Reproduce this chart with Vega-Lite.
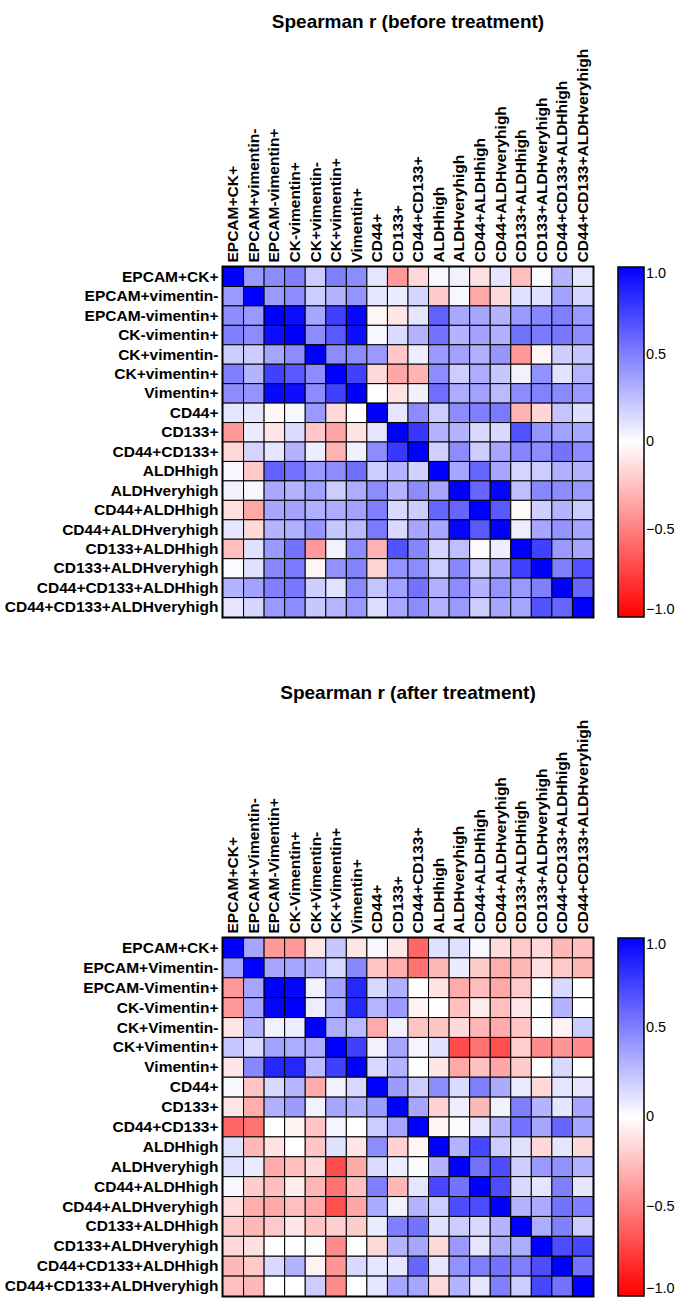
{
"$schema": "https://vega.github.io/schema/vega-lite/v6.json",
"background": "white",
"padding": {"left": 2, "top": 11, "right": 5, "bottom": 5},
"config": {
  "font": "Liberation Sans",
  "view": {"stroke": "black", "strokeWidth": 3},
  "axis": {"labelFont": "Liberation Sans", "labelFontWeight": "bold", "labelFontSize": 15.5, "labelColor": "black", "labelLimit": 400, "labelOverlap": false, "ticks": false, "domain": false, "grid": false, "labelPadding": 5, "title": null},
  "legend": {"labelFont": "Liberation Sans", "labelFontSize": 14.5, "labelColor": "black", "gradientThickness": 26, "gradientStrokeColor": "black", "gradientStrokeWidth": 1.5, "offset": 25, "labelOffset": 8},
  "title": {"font": "Liberation Sans", "fontSize": 19, "fontWeight": "bold", "color": "black", "anchor": "middle", "offset": 16}
},
"datasets": {
"before": [
{"i":0,"j":0,"v":1},{"i":0,"j":1,"v":0.4},{"i":0,"j":2,"v":0.45},{"i":0,"j":3,"v":0.5},{"i":0,"j":4,"v":0.2},{"i":0,"j":5,"v":0.5},{"i":0,"j":6,"v":0.45},{"i":0,"j":7,"v":0.1},{"i":0,"j":8,"v":-0.4},{"i":0,"j":9,"v":-0.15},{"i":0,"j":10,"v":0.03},{"i":0,"j":11,"v":0.05},{"i":0,"j":12,"v":-0.12},{"i":0,"j":13,"v":0.1},{"i":0,"j":14,"v":-0.25},{"i":0,"j":15,"v":0.02},{"i":0,"j":16,"v":0.3},{"i":0,"j":17,"v":0.1},
{"i":1,"j":0,"v":0.4},{"i":1,"j":1,"v":1},{"i":1,"j":2,"v":0.4},{"i":1,"j":3,"v":0.45},{"i":1,"j":4,"v":0.2},{"i":1,"j":5,"v":0.3},{"i":1,"j":6,"v":0.42},{"i":1,"j":7,"v":0.1},{"i":1,"j":8,"v":0.08},{"i":1,"j":9,"v":0.17},{"i":1,"j":10,"v":-0.21},{"i":1,"j":11,"v":0.03},{"i":1,"j":12,"v":-0.34},{"i":1,"j":13,"v":-0.15},{"i":1,"j":14,"v":0.12},{"i":1,"j":15,"v":0.12},{"i":1,"j":16,"v":0.36},{"i":1,"j":17,"v":0.16},
{"i":2,"j":0,"v":0.45},{"i":2,"j":1,"v":0.4},{"i":2,"j":2,"v":1},{"i":2,"j":3,"v":0.95},{"i":2,"j":4,"v":0.35},{"i":2,"j":5,"v":0.75},{"i":2,"j":6,"v":0.97},{"i":2,"j":7,"v":-0.03},{"i":2,"j":8,"v":-0.1},{"i":2,"j":9,"v":0.1},{"i":2,"j":10,"v":0.62},{"i":2,"j":11,"v":0.34},{"i":2,"j":12,"v":0.35},{"i":2,"j":13,"v":0.3},{"i":2,"j":14,"v":0.4},{"i":2,"j":15,"v":0.47},{"i":2,"j":16,"v":0.5},{"i":2,"j":17,"v":0.4},
{"i":3,"j":0,"v":0.5},{"i":3,"j":1,"v":0.45},{"i":3,"j":2,"v":0.95},{"i":3,"j":3,"v":1},{"i":3,"j":4,"v":0.45},{"i":3,"j":5,"v":0.65},{"i":3,"j":6,"v":0.95},{"i":3,"j":7,"v":0.03},{"i":3,"j":8,"v":0.14},{"i":3,"j":9,"v":0.3},{"i":3,"j":10,"v":0.55},{"i":3,"j":11,"v":0.3},{"i":3,"j":12,"v":0.36},{"i":3,"j":13,"v":0.31},{"i":3,"j":14,"v":0.55},{"i":3,"j":15,"v":0.52},{"i":3,"j":16,"v":0.53},{"i":3,"j":17,"v":0.45},
{"i":4,"j":0,"v":0.2},{"i":4,"j":1,"v":0.2},{"i":4,"j":2,"v":0.35},{"i":4,"j":3,"v":0.45},{"i":4,"j":4,"v":1},{"i":4,"j":5,"v":0.45},{"i":4,"j":6,"v":0.45},{"i":4,"j":7,"v":0.4},{"i":4,"j":8,"v":-0.22},{"i":4,"j":9,"v":0.07},{"i":4,"j":10,"v":0.4},{"i":4,"j":11,"v":0.37},{"i":4,"j":12,"v":0.31},{"i":4,"j":13,"v":0.41},{"i":4,"j":14,"v":-0.4},{"i":4,"j":15,"v":-0.04},{"i":4,"j":16,"v":0.19},{"i":4,"j":17,"v":0.22},
{"i":5,"j":0,"v":0.5},{"i":5,"j":1,"v":0.3},{"i":5,"j":2,"v":0.75},{"i":5,"j":3,"v":0.65},{"i":5,"j":4,"v":0.45},{"i":5,"j":5,"v":1},{"i":5,"j":6,"v":0.75},{"i":5,"j":7,"v":-0.15},{"i":5,"j":8,"v":-0.35},{"i":5,"j":9,"v":-0.3},{"i":5,"j":10,"v":0.45},{"i":5,"j":11,"v":0.2},{"i":5,"j":12,"v":0.32},{"i":5,"j":13,"v":0.22},{"i":5,"j":14,"v":0.05},{"i":5,"j":15,"v":0.43},{"i":5,"j":16,"v":0.11},{"i":5,"j":17,"v":0.29},
{"i":6,"j":0,"v":0.45},{"i":6,"j":1,"v":0.42},{"i":6,"j":2,"v":0.97},{"i":6,"j":3,"v":0.95},{"i":6,"j":4,"v":0.45},{"i":6,"j":5,"v":0.75},{"i":6,"j":6,"v":1},{"i":6,"j":7,"v":0},{"i":6,"j":8,"v":-0.11},{"i":6,"j":9,"v":0.06},{"i":6,"j":10,"v":0.57},{"i":6,"j":11,"v":0.32},{"i":6,"j":12,"v":0.37},{"i":6,"j":13,"v":0.27},{"i":6,"j":14,"v":0.45},{"i":6,"j":15,"v":0.49},{"i":6,"j":16,"v":0.46},{"i":6,"j":17,"v":0.4},
{"i":7,"j":0,"v":0.1},{"i":7,"j":1,"v":0.1},{"i":7,"j":2,"v":-0.03},{"i":7,"j":3,"v":0.03},{"i":7,"j":4,"v":0.4},{"i":7,"j":5,"v":-0.15},{"i":7,"j":6,"v":0},{"i":7,"j":7,"v":1},{"i":7,"j":8,"v":0.1},{"i":7,"j":9,"v":0.45},{"i":7,"j":10,"v":0.2},{"i":7,"j":11,"v":0.45},{"i":7,"j":12,"v":0.5},{"i":7,"j":13,"v":0.52},{"i":7,"j":14,"v":-0.3},{"i":7,"j":15,"v":-0.16},{"i":7,"j":16,"v":0.23},{"i":7,"j":17,"v":0.13},
{"i":8,"j":0,"v":-0.4},{"i":8,"j":1,"v":0.08},{"i":8,"j":2,"v":-0.1},{"i":8,"j":3,"v":0.14},{"i":8,"j":4,"v":-0.22},{"i":8,"j":5,"v":-0.35},{"i":8,"j":6,"v":-0.11},{"i":8,"j":7,"v":0.1},{"i":8,"j":8,"v":1},{"i":8,"j":9,"v":0.78},{"i":8,"j":10,"v":0.3},{"i":8,"j":11,"v":0.3},{"i":8,"j":12,"v":0.15},{"i":8,"j":13,"v":0.15},{"i":8,"j":14,"v":0.68},{"i":8,"j":15,"v":0.42},{"i":8,"j":16,"v":0.37},{"i":8,"j":17,"v":0.34},
{"i":9,"j":0,"v":-0.15},{"i":9,"j":1,"v":0.17},{"i":9,"j":2,"v":0.1},{"i":9,"j":3,"v":0.3},{"i":9,"j":4,"v":0.07},{"i":9,"j":5,"v":-0.3},{"i":9,"j":6,"v":0.06},{"i":9,"j":7,"v":0.45},{"i":9,"j":8,"v":0.78},{"i":9,"j":9,"v":1},{"i":9,"j":10,"v":0.18},{"i":9,"j":11,"v":0.45},{"i":9,"j":12,"v":0.2},{"i":9,"j":13,"v":0.35},{"i":9,"j":14,"v":0.48},{"i":9,"j":15,"v":0.45},{"i":9,"j":16,"v":0.55},{"i":9,"j":17,"v":0.45},
{"i":10,"j":0,"v":0.03},{"i":10,"j":1,"v":-0.21},{"i":10,"j":2,"v":0.62},{"i":10,"j":3,"v":0.55},{"i":10,"j":4,"v":0.4},{"i":10,"j":5,"v":0.45},{"i":10,"j":6,"v":0.57},{"i":10,"j":7,"v":0.2},{"i":10,"j":8,"v":0.3},{"i":10,"j":9,"v":0.18},{"i":10,"j":10,"v":1},{"i":10,"j":11,"v":0.35},{"i":10,"j":12,"v":0.6},{"i":10,"j":13,"v":0.35},{"i":10,"j":14,"v":0.17},{"i":10,"j":15,"v":0.2},{"i":10,"j":16,"v":0.31},{"i":10,"j":17,"v":0.3},
{"i":11,"j":0,"v":0.05},{"i":11,"j":1,"v":0.03},{"i":11,"j":2,"v":0.34},{"i":11,"j":3,"v":0.3},{"i":11,"j":4,"v":0.37},{"i":11,"j":5,"v":0.2},{"i":11,"j":6,"v":0.32},{"i":11,"j":7,"v":0.45},{"i":11,"j":8,"v":0.3},{"i":11,"j":9,"v":0.45},{"i":11,"j":10,"v":0.35},{"i":11,"j":11,"v":1},{"i":11,"j":12,"v":0.6},{"i":11,"j":13,"v":0.98},{"i":11,"j":14,"v":0.25},{"i":11,"j":15,"v":0.47},{"i":11,"j":16,"v":0.45},{"i":11,"j":17,"v":0.4},
{"i":12,"j":0,"v":-0.12},{"i":12,"j":1,"v":-0.34},{"i":12,"j":2,"v":0.35},{"i":12,"j":3,"v":0.36},{"i":12,"j":4,"v":0.31},{"i":12,"j":5,"v":0.32},{"i":12,"j":6,"v":0.37},{"i":12,"j":7,"v":0.5},{"i":12,"j":8,"v":0.15},{"i":12,"j":9,"v":0.2},{"i":12,"j":10,"v":0.6},{"i":12,"j":11,"v":0.6},{"i":12,"j":12,"v":1},{"i":12,"j":13,"v":0.65},{"i":12,"j":14,"v":-0.02},{"i":12,"j":15,"v":0.19},{"i":12,"j":16,"v":0.3},{"i":12,"j":17,"v":0.2},
{"i":13,"j":0,"v":0.1},{"i":13,"j":1,"v":-0.15},{"i":13,"j":2,"v":0.3},{"i":13,"j":3,"v":0.31},{"i":13,"j":4,"v":0.41},{"i":13,"j":5,"v":0.22},{"i":13,"j":6,"v":0.27},{"i":13,"j":7,"v":0.52},{"i":13,"j":8,"v":0.15},{"i":13,"j":9,"v":0.35},{"i":13,"j":10,"v":0.35},{"i":13,"j":11,"v":0.98},{"i":13,"j":12,"v":0.65},{"i":13,"j":13,"v":1},{"i":13,"j":14,"v":0.07},{"i":13,"j":15,"v":0.35},{"i":13,"j":16,"v":0.42},{"i":13,"j":17,"v":0.35},
{"i":14,"j":0,"v":-0.25},{"i":14,"j":1,"v":0.12},{"i":14,"j":2,"v":0.4},{"i":14,"j":3,"v":0.55},{"i":14,"j":4,"v":-0.4},{"i":14,"j":5,"v":0.05},{"i":14,"j":6,"v":0.45},{"i":14,"j":7,"v":-0.3},{"i":14,"j":8,"v":0.68},{"i":14,"j":9,"v":0.48},{"i":14,"j":10,"v":0.17},{"i":14,"j":11,"v":0.25},{"i":14,"j":12,"v":-0.02},{"i":14,"j":13,"v":0.07},{"i":14,"j":14,"v":1},{"i":14,"j":15,"v":0.75},{"i":14,"j":16,"v":0.4},{"i":14,"j":17,"v":0.35},
{"i":15,"j":0,"v":0.02},{"i":15,"j":1,"v":0.12},{"i":15,"j":2,"v":0.47},{"i":15,"j":3,"v":0.52},{"i":15,"j":4,"v":-0.04},{"i":15,"j":5,"v":0.43},{"i":15,"j":6,"v":0.49},{"i":15,"j":7,"v":-0.16},{"i":15,"j":8,"v":0.42},{"i":15,"j":9,"v":0.45},{"i":15,"j":10,"v":0.2},{"i":15,"j":11,"v":0.47},{"i":15,"j":12,"v":0.19},{"i":15,"j":13,"v":0.35},{"i":15,"j":14,"v":0.75},{"i":15,"j":15,"v":1},{"i":15,"j":16,"v":0.5},{"i":15,"j":17,"v":0.68},
{"i":16,"j":0,"v":0.3},{"i":16,"j":1,"v":0.36},{"i":16,"j":2,"v":0.5},{"i":16,"j":3,"v":0.53},{"i":16,"j":4,"v":0.19},{"i":16,"j":5,"v":0.11},{"i":16,"j":6,"v":0.46},{"i":16,"j":7,"v":0.23},{"i":16,"j":8,"v":0.37},{"i":16,"j":9,"v":0.55},{"i":16,"j":10,"v":0.31},{"i":16,"j":11,"v":0.45},{"i":16,"j":12,"v":0.3},{"i":16,"j":13,"v":0.42},{"i":16,"j":14,"v":0.4},{"i":16,"j":15,"v":0.5},{"i":16,"j":16,"v":1},{"i":16,"j":17,"v":0.6},
{"i":17,"j":0,"v":0.1},{"i":17,"j":1,"v":0.16},{"i":17,"j":2,"v":0.4},{"i":17,"j":3,"v":0.45},{"i":17,"j":4,"v":0.22},{"i":17,"j":5,"v":0.29},{"i":17,"j":6,"v":0.4},{"i":17,"j":7,"v":0.13},{"i":17,"j":8,"v":0.34},{"i":17,"j":9,"v":0.45},{"i":17,"j":10,"v":0.3},{"i":17,"j":11,"v":0.4},{"i":17,"j":12,"v":0.2},{"i":17,"j":13,"v":0.35},{"i":17,"j":14,"v":0.35},{"i":17,"j":15,"v":0.68},{"i":17,"j":16,"v":0.6},{"i":17,"j":17,"v":1}
],
"after": [
{"i":0,"j":0,"v":1},{"i":0,"j":1,"v":0.35},{"i":0,"j":2,"v":-0.4},{"i":0,"j":3,"v":-0.4},{"i":0,"j":4,"v":-0.1},{"i":0,"j":5,"v":0.22},{"i":0,"j":6,"v":-0.1},{"i":0,"j":7,"v":0.03},{"i":0,"j":8,"v":-0.1},{"i":0,"j":9,"v":-0.6},{"i":0,"j":10,"v":0.12},{"i":0,"j":11,"v":0.12},{"i":0,"j":12,"v":0.03},{"i":0,"j":13,"v":-0.14},{"i":0,"j":14,"v":-0.21},{"i":0,"j":15,"v":-0.15},{"i":0,"j":16,"v":-0.28},{"i":0,"j":17,"v":-0.25},
{"i":1,"j":0,"v":0.35},{"i":1,"j":1,"v":1},{"i":1,"j":2,"v":0.35},{"i":1,"j":3,"v":0.35},{"i":1,"j":4,"v":0.3},{"i":1,"j":5,"v":0.15},{"i":1,"j":6,"v":0.47},{"i":1,"j":7,"v":-0.23},{"i":1,"j":8,"v":-0.32},{"i":1,"j":9,"v":-0.55},{"i":1,"j":10,"v":-0.28},{"i":1,"j":11,"v":0.08},{"i":1,"j":12,"v":-0.2},{"i":1,"j":13,"v":-0.32},{"i":1,"j":14,"v":-0.28},{"i":1,"j":15,"v":-0.12},{"i":1,"j":16,"v":-0.21},{"i":1,"j":17,"v":-0.28},
{"i":2,"j":0,"v":-0.4},{"i":2,"j":1,"v":0.35},{"i":2,"j":2,"v":1},{"i":2,"j":3,"v":0.98},{"i":2,"j":4,"v":0.05},{"i":2,"j":5,"v":0.37},{"i":2,"j":6,"v":0.85},{"i":2,"j":7,"v":0.15},{"i":2,"j":8,"v":0.31},{"i":2,"j":9,"v":0},{"i":2,"j":10,"v":-0.11},{"i":2,"j":11,"v":-0.33},{"i":2,"j":12,"v":-0.26},{"i":2,"j":13,"v":-0.34},{"i":2,"j":14,"v":-0.21},{"i":2,"j":15,"v":0},{"i":2,"j":16,"v":0.15},{"i":2,"j":17,"v":0},
{"i":3,"j":0,"v":-0.4},{"i":3,"j":1,"v":0.35},{"i":3,"j":2,"v":0.98},{"i":3,"j":3,"v":1},{"i":3,"j":4,"v":0.07},{"i":3,"j":5,"v":0.32},{"i":3,"j":6,"v":0.85},{"i":3,"j":7,"v":0.29},{"i":3,"j":8,"v":0.39},{"i":3,"j":9,"v":-0.05},{"i":3,"j":10,"v":0},{"i":3,"j":11,"v":-0.25},{"i":3,"j":12,"v":-0.08},{"i":3,"j":13,"v":-0.25},{"i":3,"j":14,"v":-0.1},{"i":3,"j":15,"v":0},{"i":3,"j":16,"v":0.3},{"i":3,"j":17,"v":0},
{"i":4,"j":0,"v":-0.1},{"i":4,"j":1,"v":0.3},{"i":4,"j":2,"v":0.05},{"i":4,"j":3,"v":0.07},{"i":4,"j":4,"v":1},{"i":4,"j":5,"v":0.32},{"i":4,"j":6,"v":0.27},{"i":4,"j":7,"v":-0.33},{"i":4,"j":8,"v":0.05},{"i":4,"j":9,"v":-0.23},{"i":4,"j":10,"v":-0.23},{"i":4,"j":11,"v":-0.15},{"i":4,"j":12,"v":-0.29},{"i":4,"j":13,"v":-0.33},{"i":4,"j":14,"v":-0.23},{"i":4,"j":15,"v":0.01},{"i":4,"j":16,"v":-0.05},{"i":4,"j":17,"v":0.2},
{"i":5,"j":0,"v":0.22},{"i":5,"j":1,"v":0.15},{"i":5,"j":2,"v":0.37},{"i":5,"j":3,"v":0.32},{"i":5,"j":4,"v":0.32},{"i":5,"j":5,"v":1},{"i":5,"j":6,"v":0.75},{"i":5,"j":7,"v":0.05},{"i":5,"j":8,"v":0.35},{"i":5,"j":9,"v":0.04},{"i":5,"j":10,"v":0.12},{"i":5,"j":11,"v":-0.7},{"i":5,"j":12,"v":-0.55},{"i":5,"j":13,"v":-0.69},{"i":5,"j":14,"v":-0.19},{"i":5,"j":15,"v":-0.45},{"i":5,"j":16,"v":-0.41},{"i":5,"j":17,"v":-0.45},
{"i":6,"j":0,"v":-0.1},{"i":6,"j":1,"v":0.47},{"i":6,"j":2,"v":0.85},{"i":6,"j":3,"v":0.85},{"i":6,"j":4,"v":0.27},{"i":6,"j":5,"v":0.75},{"i":6,"j":6,"v":1},{"i":6,"j":7,"v":0.15},{"i":6,"j":8,"v":0.3},{"i":6,"j":9,"v":0},{"i":6,"j":10,"v":-0.1},{"i":6,"j":11,"v":-0.34},{"i":6,"j":12,"v":-0.24},{"i":6,"j":13,"v":-0.35},{"i":6,"j":14,"v":-0.2},{"i":6,"j":15,"v":0},{"i":6,"j":16,"v":0.15},{"i":6,"j":17,"v":0},
{"i":7,"j":0,"v":0.03},{"i":7,"j":1,"v":-0.23},{"i":7,"j":2,"v":0.15},{"i":7,"j":3,"v":0.29},{"i":7,"j":4,"v":-0.33},{"i":7,"j":5,"v":0.05},{"i":7,"j":6,"v":0.15},{"i":7,"j":7,"v":1},{"i":7,"j":8,"v":0.39},{"i":7,"j":9,"v":0.2},{"i":7,"j":10,"v":0.45},{"i":7,"j":11,"v":0.14},{"i":7,"j":12,"v":0.5},{"i":7,"j":13,"v":0.33},{"i":7,"j":14,"v":0.08},{"i":7,"j":15,"v":-0.15},{"i":7,"j":16,"v":0.1},{"i":7,"j":17,"v":0.1},
{"i":8,"j":0,"v":-0.1},{"i":8,"j":1,"v":-0.32},{"i":8,"j":2,"v":0.31},{"i":8,"j":3,"v":0.39},{"i":8,"j":4,"v":0.05},{"i":8,"j":5,"v":0.35},{"i":8,"j":6,"v":0.3},{"i":8,"j":7,"v":0.39},{"i":8,"j":8,"v":1},{"i":8,"j":9,"v":0.35},{"i":8,"j":10,"v":-0.18},{"i":8,"j":11,"v":0.07},{"i":8,"j":12,"v":-0.28},{"i":8,"j":13,"v":0.05},{"i":8,"j":14,"v":0.5},{"i":8,"j":15,"v":0.3},{"i":8,"j":16,"v":0.1},{"i":8,"j":17,"v":0.35},
{"i":9,"j":0,"v":-0.6},{"i":9,"j":1,"v":-0.55},{"i":9,"j":2,"v":0},{"i":9,"j":3,"v":-0.05},{"i":9,"j":4,"v":-0.23},{"i":9,"j":5,"v":0.04},{"i":9,"j":6,"v":0},{"i":9,"j":7,"v":0.2},{"i":9,"j":8,"v":0.35},{"i":9,"j":9,"v":1},{"i":9,"j":10,"v":-0.04},{"i":9,"j":11,"v":0.01},{"i":9,"j":12,"v":0.1},{"i":9,"j":13,"v":0.3},{"i":9,"j":14,"v":0.55},{"i":9,"j":15,"v":0.35},{"i":9,"j":16,"v":0.6},{"i":9,"j":17,"v":0.35},
{"i":10,"j":0,"v":0.12},{"i":10,"j":1,"v":-0.28},{"i":10,"j":2,"v":-0.11},{"i":10,"j":3,"v":0},{"i":10,"j":4,"v":-0.23},{"i":10,"j":5,"v":0.12},{"i":10,"j":6,"v":-0.1},{"i":10,"j":7,"v":0.45},{"i":10,"j":8,"v":-0.18},{"i":10,"j":9,"v":-0.04},{"i":10,"j":10,"v":1},{"i":10,"j":11,"v":0.3},{"i":10,"j":12,"v":0.72},{"i":10,"j":13,"v":0.2},{"i":10,"j":14,"v":0.12},{"i":10,"j":15,"v":-0.15},{"i":10,"j":16,"v":0.1},{"i":10,"j":17,"v":-0.15},
{"i":11,"j":0,"v":0.12},{"i":11,"j":1,"v":0.08},{"i":11,"j":2,"v":-0.33},{"i":11,"j":3,"v":-0.25},{"i":11,"j":4,"v":-0.15},{"i":11,"j":5,"v":-0.7},{"i":11,"j":6,"v":-0.34},{"i":11,"j":7,"v":0.14},{"i":11,"j":8,"v":0.07},{"i":11,"j":9,"v":0.01},{"i":11,"j":10,"v":0.3},{"i":11,"j":11,"v":1},{"i":11,"j":12,"v":0.55},{"i":11,"j":13,"v":0.7},{"i":11,"j":14,"v":0.2},{"i":11,"j":15,"v":0.4},{"i":11,"j":16,"v":0.43},{"i":11,"j":17,"v":0.3},
{"i":12,"j":0,"v":0.03},{"i":12,"j":1,"v":-0.2},{"i":12,"j":2,"v":-0.26},{"i":12,"j":3,"v":-0.08},{"i":12,"j":4,"v":-0.29},{"i":12,"j":5,"v":-0.55},{"i":12,"j":6,"v":-0.24},{"i":12,"j":7,"v":0.5},{"i":12,"j":8,"v":-0.28},{"i":12,"j":9,"v":0.1},{"i":12,"j":10,"v":0.72},{"i":12,"j":11,"v":0.55},{"i":12,"j":12,"v":1},{"i":12,"j":13,"v":0.7},{"i":12,"j":14,"v":0.15},{"i":12,"j":15,"v":0.1},{"i":12,"j":16,"v":0.5},{"i":12,"j":17,"v":0.1},
{"i":13,"j":0,"v":-0.14},{"i":13,"j":1,"v":-0.32},{"i":13,"j":2,"v":-0.34},{"i":13,"j":3,"v":-0.25},{"i":13,"j":4,"v":-0.33},{"i":13,"j":5,"v":-0.69},{"i":13,"j":6,"v":-0.35},{"i":13,"j":7,"v":0.33},{"i":13,"j":8,"v":0.05},{"i":13,"j":9,"v":0.3},{"i":13,"j":10,"v":0.2},{"i":13,"j":11,"v":0.7},{"i":13,"j":12,"v":0.7},{"i":13,"j":13,"v":1},{"i":13,"j":14,"v":0.3},{"i":13,"j":15,"v":0.33},{"i":13,"j":16,"v":0.55},{"i":13,"j":17,"v":0.5},
{"i":14,"j":0,"v":-0.21},{"i":14,"j":1,"v":-0.28},{"i":14,"j":2,"v":-0.21},{"i":14,"j":3,"v":-0.1},{"i":14,"j":4,"v":-0.23},{"i":14,"j":5,"v":-0.19},{"i":14,"j":6,"v":-0.2},{"i":14,"j":7,"v":0.08},{"i":14,"j":8,"v":0.5},{"i":14,"j":9,"v":0.55},{"i":14,"j":10,"v":0.12},{"i":14,"j":11,"v":0.2},{"i":14,"j":12,"v":0.15},{"i":14,"j":13,"v":0.3},{"i":14,"j":14,"v":1},{"i":14,"j":15,"v":0.32},{"i":14,"j":16,"v":0.5},{"i":14,"j":17,"v":0.2},
{"i":15,"j":0,"v":-0.15},{"i":15,"j":1,"v":-0.12},{"i":15,"j":2,"v":0},{"i":15,"j":3,"v":0},{"i":15,"j":4,"v":0.01},{"i":15,"j":5,"v":-0.45},{"i":15,"j":6,"v":0},{"i":15,"j":7,"v":-0.15},{"i":15,"j":8,"v":0.3},{"i":15,"j":9,"v":0.35},{"i":15,"j":10,"v":-0.15},{"i":15,"j":11,"v":0.4},{"i":15,"j":12,"v":0.1},{"i":15,"j":13,"v":0.33},{"i":15,"j":14,"v":0.32},{"i":15,"j":15,"v":1},{"i":15,"j":16,"v":0.7},{"i":15,"j":17,"v":0.72},
{"i":16,"j":0,"v":-0.28},{"i":16,"j":1,"v":-0.21},{"i":16,"j":2,"v":0.15},{"i":16,"j":3,"v":0.3},{"i":16,"j":4,"v":-0.05},{"i":16,"j":5,"v":-0.41},{"i":16,"j":6,"v":0.15},{"i":16,"j":7,"v":0.1},{"i":16,"j":8,"v":0.1},{"i":16,"j":9,"v":0.6},{"i":16,"j":10,"v":0.1},{"i":16,"j":11,"v":0.43},{"i":16,"j":12,"v":0.5},{"i":16,"j":13,"v":0.55},{"i":16,"j":14,"v":0.5},{"i":16,"j":15,"v":0.7},{"i":16,"j":16,"v":1},{"i":16,"j":17,"v":0.55},
{"i":17,"j":0,"v":-0.25},{"i":17,"j":1,"v":-0.28},{"i":17,"j":2,"v":0},{"i":17,"j":3,"v":0},{"i":17,"j":4,"v":0.2},{"i":17,"j":5,"v":-0.45},{"i":17,"j":6,"v":0},{"i":17,"j":7,"v":0.1},{"i":17,"j":8,"v":0.35},{"i":17,"j":9,"v":0.35},{"i":17,"j":10,"v":-0.15},{"i":17,"j":11,"v":0.3},{"i":17,"j":12,"v":0.1},{"i":17,"j":13,"v":0.5},{"i":17,"j":14,"v":0.2},{"i":17,"j":15,"v":0.72},{"i":17,"j":16,"v":0.55},{"i":17,"j":17,"v":1}
]
},
"vconcat": [
  {
    "title": {"text": "Spearman r (before treatment)"},
    "width": 370, "height": 350,
    "data": {"name": "before"},
    "mark": {"type": "rect", "stroke": "black", "strokeWidth": 1},
    "encoding": {
      "x": {"field": "j", "type": "ordinal", "scale": {"paddingInner": 0, "paddingOuter": 0},
        "axis": {"orient": "top", "labelAngle": -90, "labelExpr": "['EPCAM+CK+','EPCAM+vimentin-','EPCAM-vimentin+','CK-vimentin+','CK+vimentin-','CK+vimentin+','Vimentin+','CD44+','CD133+','CD44+CD133+','ALDHhigh','ALDHveryhigh','CD44+ALDHhigh','CD44+ALDHveryhigh','CD133+ALDHhigh','CD133+ALDHveryhigh','CD44+CD133+ALDHhigh','CD44+CD133+ALDHveryhigh'][datum.value]"}},
      "y": {"field": "i", "type": "ordinal", "scale": {"paddingInner": 0, "paddingOuter": 0},
        "axis": {"labelExpr": "['EPCAM+CK+','EPCAM+vimentin-','EPCAM-vimentin+','CK-vimentin+','CK+vimentin-','CK+vimentin+','Vimentin+','CD44+','CD133+','CD44+CD133+','ALDHhigh','ALDHveryhigh','CD44+ALDHhigh','CD44+ALDHveryhigh','CD133+ALDHhigh','CD133+ALDHveryhigh','CD44+CD133+ALDHhigh','CD44+CD133+ALDHveryhigh'][datum.value]"}},
      "color": {"field": "v", "type": "quantitative",
        "scale": {"domain": [-1, 0, 1], "range": ["#ff0000", "#ffffff", "#0000ff"], "interpolate": "rgb"},
        "legend": {"title": null, "values": [1, 0.5, 0, -0.5, -1], "gradientLength": 350, "labelExpr": "datum.value == 0 ? '0' : format(datum.value, '.1f')"}}
    }
  },
  {
    "title": {"text": "Spearman r (after treatment)"},
    "width": 370, "height": 358,
    "data": {"name": "after"},
    "mark": {"type": "rect", "stroke": "black", "strokeWidth": 1},
    "encoding": {
      "x": {"field": "j", "type": "ordinal", "scale": {"paddingInner": 0, "paddingOuter": 0},
        "axis": {"orient": "top", "labelAngle": -90, "labelExpr": "['EPCAM+CK+','EPCAM+Vimentin-','EPCAM-Vimentin+','CK-Vimentin+','CK+Vimentin-','CK+Vimentin+','Vimentin+','CD44+','CD133+','CD44+CD133+','ALDHhigh','ALDHveryhigh','CD44+ALDHhigh','CD44+ALDHveryhigh','CD133+ALDHhigh','CD133+ALDHveryhigh','CD44+CD133+ALDHhigh','CD44+CD133+ALDHveryhigh'][datum.value]"}},
      "y": {"field": "i", "type": "ordinal", "scale": {"paddingInner": 0, "paddingOuter": 0},
        "axis": {"labelExpr": "['EPCAM+CK+','EPCAM+Vimentin-','EPCAM-Vimentin+','CK-Vimentin+','CK+Vimentin-','CK+Vimentin+','Vimentin+','CD44+','CD133+','CD44+CD133+','ALDHhigh','ALDHveryhigh','CD44+ALDHhigh','CD44+ALDHveryhigh','CD133+ALDHhigh','CD133+ALDHveryhigh','CD44+CD133+ALDHhigh','CD44+CD133+ALDHveryhigh'][datum.value]"}},
      "color": {"field": "v", "type": "quantitative",
        "scale": {"domain": [-1, 0, 1], "range": ["#ff0000", "#ffffff", "#0000ff"], "interpolate": "rgb"},
        "legend": {"title": null, "values": [1, 0.5, 0, -0.5, -1], "gradientLength": 358, "labelExpr": "datum.value == 0 ? '0' : format(datum.value, '.1f')"}}
    }
  }
],
"spacing": 62,
"resolve": {"scale": {"x": "independent", "y": "independent", "color": "independent"}, "legend": {"color": "independent"}}
}
